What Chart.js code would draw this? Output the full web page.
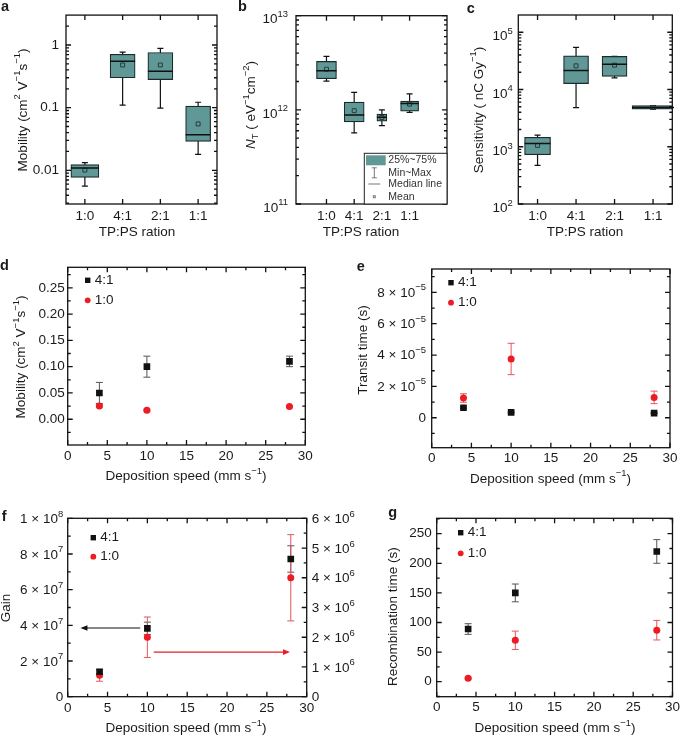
<!DOCTYPE html>
<html>
<head>
<meta charset="utf-8">
<script src="https://cdn.jsdelivr.net/npm/chart.js@4.4.1/dist/chart.umd.min.js"></script>
<style>
  html, body { margin: 0; padding: 0; background: #fff; }
  #wrap { position: relative; width: 682px; height: 736px; }
  #wrap canvas { position: absolute; left: 0; top: 0; }
</style>
</head>
<body>
<div id="wrap">
  <canvas id="pa" width="682" height="736"></canvas>
  <canvas id="pb" width="682" height="736"></canvas>
  <canvas id="pc" width="682" height="736"></canvas>
  <canvas id="pd" width="682" height="736"></canvas>
  <canvas id="pe" width="682" height="736"></canvas>
  <canvas id="pf" width="682" height="736"></canvas>
  <canvas id="pg" width="682" height="736"></canvas>
</div>
<script>
const ratioLabels = ['1:0', '4:1', '2:1', '1:1'];

// a: mobility box stats
const aMin    = [0.0056, 0.11, 0.098, 0.018];
const aQ1     = [0.0077, 0.30, 0.28, 0.029];
const aMedian = [0.0109, 0.55, 0.38, 0.037];
const aQ3     = [0.0123, 0.71, 0.76, 0.106];
const aMax    = [0.0133, 0.77, 0.88, 0.122];
const aMean   = [0.0101, 0.48, 0.48, 0.055];
const aTicks  = [0.01, 0.1, 1];

// b: trap density
const bMin    = [2.02e12, 0.57e12, 0.68e12, 0.94e12];
const bQ1     = [2.14e12, 0.745e12, 0.76e12, 0.97e12];
const bMedian = [2.6e12, 0.88e12, 0.836e12, 1.17e12];
const bQ3     = [3.27e12, 1.21e12, 0.90e12, 1.24e12];
const bMax    = [3.69e12, 1.53e12, 1.0e12, 1.48e12];
const bMean   = [2.7e12, 0.98e12, 0.83e12, 1.15e12];
const bTicks  = [1e11, 1e12, 1e13];

// c: sensitivity
const cMin    = [473, 4840, 16000, 4530];
const cQ1     = [725, 12700, 16900, 4530];
const cMedian = [1145, 21500, 27700, 4840];
const cQ3     = [1460, 38700, 37800, 5250];
const cMax    = [1600, 54200, 38000, 5250];
const cMean   = [1055, 25900, 26600, 4840];
const cTicks  = [1e2, 1e3, 1e4, 1e5];

// d-g: vs deposition speed
const speeds = [4, 10, 28];
const speedTicks = [0, 5, 10, 15, 20, 25, 30];

const dMob41 = [0.05, 0.10, 0.11];
const dMob41Err = [0.02, 0.02, 0.01];
const dMob10 = [0.025, 0.017, 0.024];
const dMob10Err = [0.002, 0.002, 0.002];
const dTicks = [0, 0.05, 0.10, 0.15, 0.20, 0.25];

const eTime41 = [6.4e-6, 3.4e-6, 3.0e-6];
const eTime41Err = [0.4e-6, 0.3e-6, 0.3e-6];
const eTime10 = [1.26e-5, 3.75e-5, 1.3e-5];
const eTime10Err = [0.27e-5, 1.0e-5, 0.4e-5];
const eTicks = [0, 2e-5, 4e-5, 6e-5, 8e-5];

const fGain41 = [1.4e7, 3.83e7, 7.72e7];
const fGain41Err = [0.12e7, 0.35e7, 0.74e7];
const fGain10 = [0.72e6, 2.0e6, 4.0e6];
const fGain10Err = [0.2e6, 0.68e6, 1.45e6];
const fGainTicks = [0, 2e7, 4e7, 6e7, 8e7, 1e8];
const fRightTicks = [0, 1e6, 2e6, 3e6, 4e6, 5e6, 6e6];
const fArrowLeft = [9.1, 1.6, 3.85e7];   // from x, to x, gain
const fArrowRight = [10.8, 27.9, 1.5e6]; // from x, to x, right-axis value

const gRec41 = [89, 150, 220];
const gRec41Err = [9, 15, 20];
const gRec10 = [6, 70, 87];
const gRec10Err = [1.5, 15.5, 16.5];
const gTicks = [0, 50, 100, 150, 200, 250];

const FONT = '"Liberation Sans", Arial, Helvetica, sans-serif';
const TEAL = '#5f9896';
const BOXLINE = '#1c2a2a';
const RED = '#ec1c24';
const RED_ERR = '#e4575b';
const BLACK = '#111111';
const BLACK_ERR = '#555555';

Chart.defaults.font.family = FONT;
Chart.defaults.font.size = 13.5;
Chart.defaults.color = '#1a1a1a';
Chart.defaults.animation = false;
Chart.defaults.responsive = false;
Chart.defaults.plugins.legend.display = false;
Chart.defaults.plugins.tooltip.enabled = false;

// text with ^{sup}, _{sub} and *italic* pieces
function rich(ctx, str, x, y, o) {
  o = o || {};
  const size = o.size || 13.5;
  const parts = [];
  str.replace(/\^\{([^}]*)\}|_\{([^}]*)\}|\*([^*]*)\*|([^^_*]+)/g, (m, sup, sub, it, txt) => {
    if (sup !== undefined) parts.push({ t: sup, k: 'sup' });
    else if (sub !== undefined) parts.push({ t: sub, k: 'sub' });
    else if (it !== undefined) parts.push({ t: it, k: 'it' });
    else parts.push({ t: txt, k: '' });
    return m;
  });
  const fontFor = p => (p.k === 'it' ? 'italic ' : '') + (o.bold ? 'bold ' : '') +
    ((p.k === 'sup' || p.k === 'sub') ? size * 0.7 : size) + 'px ' + FONT;
  ctx.save();
  let w = 0;
  parts.forEach(p => { ctx.font = fontFor(p); p.w = ctx.measureText(p.t).width; w += p.w; });
  ctx.translate(x, y);
  if (o.rot) ctx.rotate(o.rot);
  let cx = o.align === 'right' ? -w : o.align === 'center' ? -w / 2 : 0;
  ctx.textBaseline = 'middle';
  ctx.textAlign = 'left';
  ctx.fillStyle = o.color || '#1a1a1a';
  parts.forEach(p => {
    ctx.font = fontFor(p);
    const dy = p.k === 'sup' ? -size * 0.38 : p.k === 'sub' ? size * 0.3 : 0;
    ctx.fillText(p.t, cx, dy);
    cx += p.w;
  });
  ctx.restore();
}

const sciFmt = v => {
  if (v === 0) return '0';
  const e = Math.floor(Math.log10(v) + 1e-9);
  const m = Math.round(v / Math.pow(10, e));
  return m + ' × 10^{' + String(e).replace('-', '−') + '}';
};
const decFmt = v => '10^{' + Math.round(Math.log10(v)) + '}';

function tickList(scale, minor) {
  const out = scale.ticks.map(t => [t.value, 5]);
  if (minor === 'log') {
    for (let d = Math.floor(Math.log10(scale.min)); d <= Math.ceil(Math.log10(scale.max)); d++) {
      for (let k = 2; k <= 9; k++) {
        const v = k * Math.pow(10, d);
        if (v > scale.min && v < scale.max) out.push([v, 3]);
      }
    }
  } else if (minor) {
    const start = Math.ceil(scale.min / minor) * minor;
    for (let v = start; v < scale.max; v += minor) {
      if (!out.some(t => Math.abs(t[0] - v) < minor * 1e-3)) out.push([v, 3]);
    }
  }
  return out;
}

// border and inward ticks on all sides
function frame(o) {
  return {
    id: 'frame',
    afterDraw(chart) {
      const { ctx, chartArea: a, scales } = chart;
      ctx.save();
      ctx.strokeStyle = '#111';
      ctx.lineWidth = 1.3;
      ctx.strokeRect(a.left, a.top, a.right - a.left, a.bottom - a.top);
      ctx.beginPath();
      const seg = (x1, y1, x2, y2) => { ctx.moveTo(x1, y1); ctx.lineTo(x2, y2); };
      tickList(scales.x, o.xMinor).forEach(([v, len]) => {
        const px = scales.x.getPixelForValue(v);
        seg(px, a.bottom, px, a.bottom - len);
        seg(px, a.top, px, a.top + len);
      });
      const ys = scales.y, rs = scales.y2 || scales.y;
      tickList(ys, o.yMinor).forEach(([v, len]) => {
        const py = ys.getPixelForValue(v);
        seg(a.left, py, a.left + len, py);
      });
      tickList(rs, scales.y2 ? o.y2Minor : o.yMinor).forEach(([v, len]) => {
        const py = rs.getPixelForValue(v);
        seg(a.right, py, a.right - len, py);
      });
      ctx.stroke();
      ctx.restore();
    }
  };
}

// whiskers, caps and median lines for the box panels
function boxes(pos, mins, maxs, meds, widths) {
  return {
    id: 'boxes',
    beforeDatasetsDraw(chart) {
      const { ctx, scales: { x, y } } = chart;
      ctx.save();
      ctx.strokeStyle = '#111';
      ctx.lineWidth = 1.2;
      ctx.beginPath();
      pos.forEach((p, i) => {
        const px = x.getPixelForValue(p);
        const t = y.getPixelForValue(maxs[i]), b = y.getPixelForValue(mins[i]);
        ctx.moveTo(px, t); ctx.lineTo(px, b);
        ctx.moveTo(px - 3, t); ctx.lineTo(px + 3, t);
        ctx.moveTo(px - 3, b); ctx.lineTo(px + 3, b);
      });
      ctx.stroke();
      ctx.restore();
    },
    afterDatasetsDraw(chart) {
      const { ctx, scales: { x, y } } = chart;
      ctx.save();
      ctx.strokeStyle = '#111';
      ctx.lineWidth = 1.5;
      ctx.beginPath();
      pos.forEach((p, i) => {
        const px = x.getPixelForValue(p), py = y.getPixelForValue(meds[i]);
        ctx.moveTo(px - widths[i] / 2, py); ctx.lineTo(px + widths[i] / 2, py);
      });
      ctx.stroke();
      ctx.restore();
    }
  };
}

function errorBars(series) {
  return {
    id: 'errorBars',
    beforeDatasetsDraw(chart) {
      const { ctx, scales } = chart;
      ctx.save();
      ctx.lineWidth = 1;
      series.forEach(s => {
        const y = scales[s.axis || 'y'];
        ctx.strokeStyle = s.color;
        ctx.beginPath();
        s.ys.forEach((v, i) => {
          const px = scales.x.getPixelForValue(speeds[i]);
          const t = y.getPixelForValue(v + s.err[i]), b = y.getPixelForValue(v - s.err[i]);
          ctx.moveTo(px, t); ctx.lineTo(px, b);
          ctx.moveTo(px - 3.5, t); ctx.lineTo(px + 3.5, t);
          ctx.moveTo(px - 3.5, b); ctx.lineTo(px + 3.5, b);
        });
        ctx.stroke();
      });
      ctx.restore();
    }
  };
}

function insetLegend(dx, dy, gap) {
  return {
    id: 'insetLegend',
    afterDraw(chart) {
      const { ctx, chartArea: a } = chart;
      chart.data.datasets.forEach((ds, i) => {
        const mx = a.left + dx, my = a.top + dy + i * gap;
        ctx.fillStyle = ds.backgroundColor;
        if (ds.pointStyle === 'rect') ctx.fillRect(mx - 2.7, my - 2.7, 5.4, 5.4);
        else { ctx.beginPath(); ctx.arc(mx, my, 2.9, 0, Math.PI * 2); ctx.fill(); }
        rich(ctx, ds.label, mx + 7, my);
      });
    }
  };
}

function sciTicks(axis, fmt, side, pad, dy) {
  return {
    id: 'sciTicks_' + axis,
    afterDraw(chart) {
      const s = chart.scales[axis], a = chart.chartArea;
      s.ticks.forEach(t => {
        const py = s.getPixelForValue(t.value) + dy;
        if (side === 'left') rich(chart.ctx, fmt(t.value), a.left - pad, py, { align: 'right' });
        else rich(chart.ctx, fmt(t.value), a.right + pad, py, { align: 'left' });
      });
    }
  };
}

function texts(items) {
  return {
    id: 'texts',
    afterDraw(chart) { items.forEach(t => rich(chart.ctx, t.text, t.x, t.y, t)); }
  };
}

const V = -Math.PI / 2;
const noGrid = { display: false, drawTicks: false };
const xAxis = extra => Object.assign({ grid: noGrid, border: { display: false }, afterFit: s => { s.height = 30; } }, extra);
const yAxis = extra => Object.assign({ grid: noGrid, border: { display: false }, afterFit: s => { s.width = 40; } }, extra);
const pad = (area, y2) => ({ padding: { left: area[0] - 40, top: area[1], right: 682 - area[2] - (y2 ? 40 : 0), bottom: 736 - area[3] - 30 } });
const fixTicks = list => s => { s.ticks = list.map(v => ({ value: v })); };

function boxDatasets(pos, q1, q3, means, widths) {
  const sets = pos.map((p, i) => ({
    type: 'bar',
    data: [{ x: p, y: [q1[i], q3[i]] }],
    barThickness: widths[i],
    grouped: false,
    backgroundColor: TEAL,
    borderColor: BOXLINE,
    borderWidth: 1.2,
    borderSkipped: false
  }));
  sets.push({
    type: 'line',
    showLine: false,
    order: -1,
    data: pos.map((p, i) => ({ x: p, y: means[i] })),
    pointStyle: 'rect',
    pointRadius: 2.8,
    borderWidth: 1,
    borderColor: '#2a3b3b',
    backgroundColor: 'rgba(0,0,0,0)'
  });
  return sets;
}

function scatterSets(a41, a10, axis10) {
  return [
    { label: '4:1', data: speeds.map((x, i) => ({ x, y: a41[i] })), pointStyle: 'rect', pointRadius: 4.7,
      backgroundColor: BLACK, borderColor: BLACK, borderWidth: 0, yAxisID: 'y' },
    { label: '1:0', data: speeds.map((x, i) => ({ x, y: a10[i] })), pointStyle: 'circle', pointRadius: 3.5,
      backgroundColor: RED, borderColor: RED, borderWidth: 0, yAxisID: axis10 || 'y' }
  ];
}

const speedAxis = padding => xAxis({ type: 'linear', min: 0, max: 30, afterBuildTicks: fixTicks(speedTicks), ticks: { padding } });
const speedTitle = (x, y) => ({ text: 'Deposition speed (mm s^{−1})', x, y, align: 'center' });

// ---- a ----
new Chart(document.getElementById('pa'), {
  type: 'bar',
  data: { datasets: boxDatasets(ratioLabels, aQ1, aQ3, aMean, [28, 25, 25, 25]) },
  options: {
    layout: pad([66, 15, 217, 204]),
    scales: {
      x: xAxis({ type: 'category', labels: ratioLabels, offset: true, ticks: { padding: 4 } }),
      y: yAxis({ type: 'logarithmic', min: 0.0029, max: 3.0, afterBuildTicks: fixTicks(aTicks), ticks: { padding: 7, callback: v => String(v) } })
    }
  },
  plugins: [
    boxes(ratioLabels, aMin, aMax, aMedian, [28, 25, 25, 25]),
    frame({ yMinor: 'log' }),
    texts([
      { text: 'a', x: 1, y: 7, bold: true, size: 14.5 },
      { text: 'Mobility (cm^{2} V^{−1}s^{−1})', x: 23, y: 110, rot: V, align: 'center' },
      { text: 'TP:PS ration', x: 137, y: 232, align: 'center' }
    ])
  ]
});

// ---- b ----
const bPos = [1, 2, 3, 4];
const bLegend = {
  id: 'bLegend',
  afterDraw(chart) {
    const { ctx, chartArea: a } = chart;
    const l = a.right - 82.7, t = a.bottom - 50.7;
    ctx.save();
    ctx.fillStyle = '#fff';
    ctx.fillRect(l, t, a.right - l, a.bottom - t);
    ctx.strokeStyle = '#222';
    ctx.lineWidth = 1;
    ctx.strokeRect(l, t, a.right - l, a.bottom - t);
    ctx.fillStyle = TEAL;
    ctx.fillRect(l + 1.7, t + 2, 19.7, 10);
    ctx.strokeStyle = '#777';
    ctx.beginPath();
    ctx.moveTo(l + 10, t + 14.5); ctx.lineTo(l + 10, t + 24.5);
    ctx.moveTo(l + 7.5, t + 14.5); ctx.lineTo(l + 12.5, t + 14.5);
    ctx.moveTo(l + 7.5, t + 24.5); ctx.lineTo(l + 12.5, t + 24.5);
    ctx.moveTo(l + 4, t + 30.7); ctx.lineTo(l + 16, t + 30.7);
    ctx.stroke();
    ctx.strokeRect(l + 9, t + 42.4, 2, 2);
    ctx.restore();
    ['25%~75%', 'Min~Max', 'Median line', 'Mean'].forEach((s, i) =>
      rich(ctx, s, l + 24, t + [6.7, 19.4, 30.7, 43.4][i], { size: 10.5, color: '#333' }));
  }
};
new Chart(document.getElementById('pb'), {
  type: 'bar',
  data: { datasets: boxDatasets(bPos, bQ1, bQ3, bMean, [20, 20, 10, 18]) },
  options: {
    layout: pad([296, 15.7, 447, 204]),
    scales: {
      x: xAxis({ type: 'linear', offset: false, min: -0.1, max: 5.35, afterBuildTicks: fixTicks(bPos),
        ticks: { padding: 4, callback: v => ratioLabels[v - 1] } }),
      y: yAxis({ type: 'logarithmic', min: 1e11, max: 1e13, afterBuildTicks: fixTicks(bTicks), ticks: { display: false } })
    }
  },
  plugins: [
    boxes(bPos, bMin, bMax, bMedian, [20, 20, 10, 18]),
    frame({ yMinor: 'log' }),
    bLegend,
    sciTicks('y', decFmt, 'left', 8, 4),
    texts([
      { text: 'b', x: 238, y: 7, bold: true, size: 14.5 },
      { text: '*N*_{T} ( eV^{−1}cm^{−2})', x: 251.7, y: 105, rot: V, align: 'center' },
      { text: 'TP:PS ration', x: 361, y: 232, align: 'center' }
    ])
  ]
});

// ---- c ----
new Chart(document.getElementById('pc'), {
  type: 'bar',
  data: { datasets: boxDatasets(ratioLabels, cQ1, cQ3, cMean, [26, 25, 25, 42]) },
  options: {
    layout: pad([518.3, 15, 672.3, 204]),
    scales: {
      x: xAxis({ type: 'category', labels: ratioLabels, offset: true, ticks: { padding: 4 } }),
      y: yAxis({ type: 'logarithmic', min: 1e2, max: 2e5, afterBuildTicks: fixTicks(cTicks), ticks: { display: false } })
    }
  },
  plugins: [
    boxes(ratioLabels, cMin, cMax, cMedian, [26, 25, 25, 42]),
    frame({ yMinor: 'log' }),
    sciTicks('y', decFmt, 'left', 5.6, 4.5),
    texts([
      { text: 'c', x: 466.7, y: 8.5, bold: true, size: 14.5 },
      { text: 'Sensitivity ( nC Gy^{−1})', x: 479, y: 110, rot: V, align: 'center' },
      { text: 'TP:PS ration', x: 585, y: 232, align: 'center' }
    ])
  ]
});

// ---- d ----
new Chart(document.getElementById('pd'), {
  type: 'scatter',
  data: { datasets: scatterSets(dMob41, dMob10) },
  options: {
    layout: pad([67.7, 267.3, 305.3, 445]),
    scales: {
      x: speedAxis(3.6),
      y: yAxis({ type: 'linear', min: -0.049, max: 0.289, afterBuildTicks: fixTicks(dTicks), ticks: { padding: 3, callback: v => v.toFixed(2) } })
    }
  },
  plugins: [
    errorBars([{ ys: dMob41, err: dMob41Err, color: BLACK_ERR }, { ys: dMob10, err: dMob10Err, color: RED_ERR }]),
    frame({ xMinor: 2.5, yMinor: 0.025 }),
    insetLegend(20, 13, 20),
    texts([
      { text: 'd', x: 0, y: 266, bold: true, size: 14.5 },
      { text: 'Mobility (cm^{2} V^{−1}s^{−1})', x: 21.7, y: 357, rot: V, align: 'center' },
      speedTitle(186, 476.7)
    ])
  ]
});

// ---- e ----
new Chart(document.getElementById('pe'), {
  type: 'scatter',
  data: { datasets: scatterSets(eTime41, eTime10) },
  options: {
    layout: pad([431.7, 269, 670, 447.7]),
    scales: {
      x: speedAxis(2.5),
      y: yAxis({ type: 'linear', min: -1.91e-5, max: 9.49e-5, afterBuildTicks: fixTicks(eTicks), ticks: { display: false } })
    }
  },
  plugins: [
    errorBars([{ ys: eTime41, err: eTime41Err, color: BLACK_ERR }, { ys: eTime10, err: eTime10Err, color: RED_ERR }]),
    frame({ xMinor: 2.5, yMinor: 1e-5 }),
    insetLegend(19.3, 13.7, 20),
    sciTicks('y', sciFmt, 'left', 5.7, 0.5),
    texts([
      { text: 'e', x: 356.7, y: 266.7, bold: true, size: 14.5 },
      { text: 'Transit time (s)', x: 363.3, y: 350, rot: V, align: 'center' },
      speedTitle(550.5, 479)
    ])
  ]
});

// ---- f ----
const fArrows = {
  id: 'fArrows',
  afterDatasetsDraw(chart) {
    const { ctx, scales: { x, y, y2 } } = chart;
    const arrow = (x1, x2, py, color) => {
      const p1 = x.getPixelForValue(x1), p2 = x.getPixelForValue(x2), dir = Math.sign(p2 - p1);
      ctx.strokeStyle = color; ctx.fillStyle = color; ctx.lineWidth = 1.2;
      ctx.beginPath(); ctx.moveTo(p1, py); ctx.lineTo(p2 - dir * 5, py); ctx.stroke();
      ctx.beginPath(); ctx.moveTo(p2, py); ctx.lineTo(p2 - dir * 7, py - 2.8); ctx.lineTo(p2 - dir * 7, py + 2.8); ctx.closePath(); ctx.fill();
    };
    ctx.save();
    arrow(fArrowLeft[0], fArrowLeft[1], y.getPixelForValue(fArrowLeft[2]), '#111');
    arrow(fArrowRight[0], fArrowRight[1], y2.getPixelForValue(fArrowRight[2]), RED);
    ctx.restore();
  }
};
new Chart(document.getElementById('pf'), {
  type: 'scatter',
  data: { datasets: scatterSets(fGain41, fGain10, 'y2') },
  options: {
    layout: pad([67.7, 518.3, 306.7, 696.7], true),
    scales: {
      x: speedAxis(3.5),
      y: yAxis({ type: 'linear', min: 0, max: 1e8, afterBuildTicks: fixTicks(fGainTicks), ticks: { display: false } }),
      y2: yAxis({ type: 'linear', position: 'right', min: 0, max: 6e6, afterBuildTicks: fixTicks(fRightTicks), ticks: { display: false } })
    }
  },
  plugins: [
    errorBars([{ ys: fGain41, err: fGain41Err, color: BLACK_ERR }, { ys: fGain10, err: fGain10Err, color: RED_ERR, axis: 'y2' }]),
    fArrows,
    frame({ xMinor: 2.5, yMinor: 1e7, y2Minor: 5e5 }),
    insetLegend(25.6, 19.4, 19),
    sciTicks('y', sciFmt, 'left', 4.5, 1),
    sciTicks('y2', sciFmt, 'right', 5, 1),
    texts([
      { text: 'f', x: 1.7, y: 517, bold: true, size: 14.5 },
      { text: 'Gain', x: 6.7, y: 608, rot: V, align: 'center' },
      speedTitle(186, 728.3)
    ])
  ]
});

// ---- g ----
new Chart(document.getElementById('pg'), {
  type: 'scatter',
  data: { datasets: scatterSets(gRec41, gRec10) },
  options: {
    layout: pad([436.7, 518.3, 674.3, 696.7]),
    scales: {
      x: speedAxis(2),
      y: yAxis({ type: 'linear', min: -25.3, max: 276, afterBuildTicks: fixTicks(gTicks), ticks: { padding: 5 } })
    }
  },
  plugins: [
    errorBars([{ ys: gRec41, err: gRec41Err, color: BLACK_ERR }, { ys: gRec10, err: gRec10Err, color: RED_ERR }]),
    frame({ xMinor: 2.5, yMinor: 25 }),
    insetLegend(24, 14.4, 20.6),
    texts([
      { text: 'g', x: 388.3, y: 513.3, bold: true, size: 14.5 },
      { text: 'Recombination time (s)', x: 393.3, y: 616.7, rot: V, align: 'center' },
      speedTitle(555, 728.3)
    ])
  ]
});
</script>
</body>
</html>
